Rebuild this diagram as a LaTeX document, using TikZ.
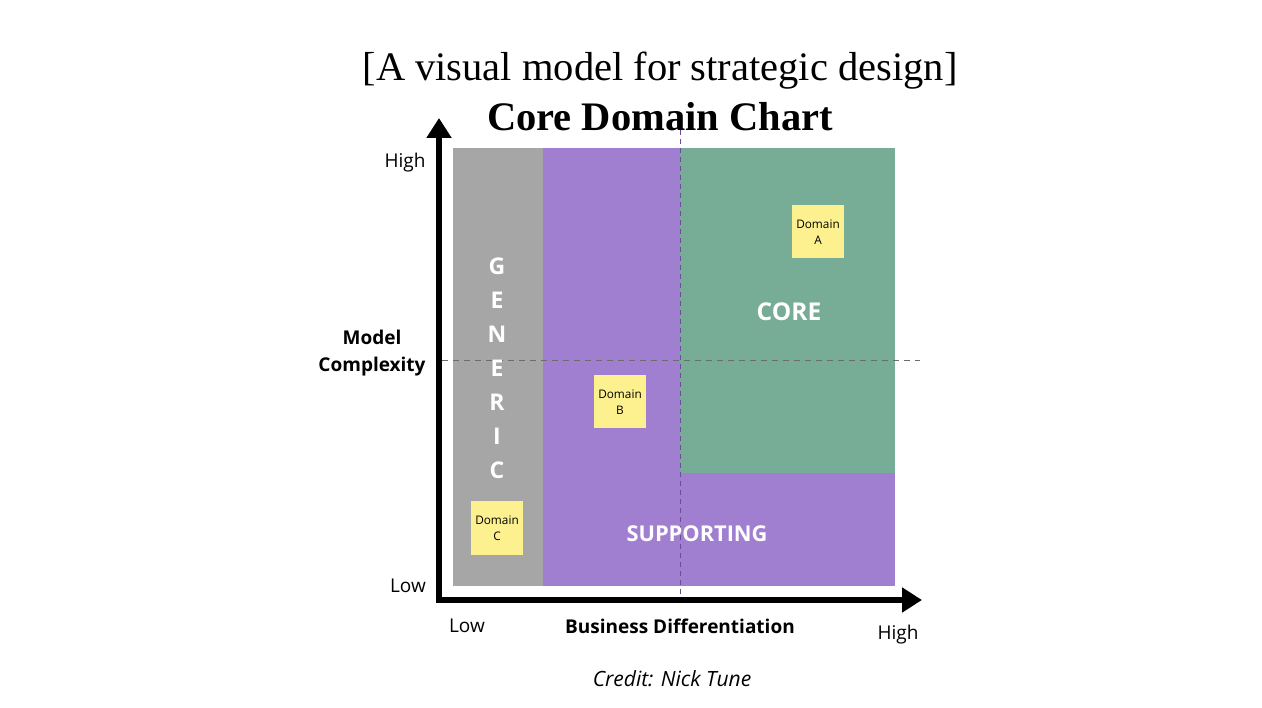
\documentclass[tikz,border=0pt]{standalone}
\usepackage{fontspec}
\setmainfont{Open Sans}
\newfontfamily\titlefont{Liberation Serif}
\usetikzlibrary{arrows.meta}
\definecolor{genericgray}{HTML}{A6A6A6}
\definecolor{suppurple}{HTML}{A17FD0}
\definecolor{coregreen}{HTML}{77AC97}
\definecolor{sticky}{HTML}{FDF08F}
\definecolor{dashpurple}{HTML}{6A4C98}
\begin{document}
\begin{tikzpicture}[x=1pt,y=-1pt,
  zonelabel/.style={text=white,font=\bfseries\fontsize{24.5}{28}\selectfont},
  note/.style={fill=sticky,minimum width=52pt,minimum height=53pt,inner sep=0pt,align=center,font=\fontsize{11.8}{16}\selectfont},
  axislabel/.style={font=\fontsize{19}{26}\selectfont},
  axistitle/.style={font=\bfseries\fontsize{19}{27}\selectfont,align=center},
  axis/.style={line width=6pt,-{Triangle[length=20pt,width=24pt]}}
]
\useasboundingbox (0,0) rectangle (1262,708);
% zones
\fill[suppurple] (543,148) rectangle (895,586);
\fill[genericgray] (453,148) rectangle (543,586);
\fill[coregreen] (680,148) rectangle (895,473);
% dashed guides
\draw[dashpurple,line width=0.9pt,dash pattern=on 5pt off 4pt] (680,130) -- (680,598);
\draw[gray!85!black,line width=0.9pt,dash pattern=on 6pt off 5pt] (442,360) -- (920,360);
% axes
\coordinate (origin) at (439,600);
\coordinate (ytip) at (439,118);
\coordinate (xtip) at (922,600);
\draw[axis] ([yshift=3pt]origin) -- (ytip);
\draw[axis] ([xshift=-3pt]origin) -- (xtip);
% titles
\node[font=\titlefont\fontsize{40.5}{44}\selectfont] (title) at (660,71) {[A visual model for strategic design]};
\node[font=\titlefont\bfseries\fontsize{40.5}{44}\selectfont] (subtitle) at (660,117) {Core Domain Chart};
% zone labels
\node[zonelabel,align=center,font=\bfseries\fontsize{23}{34}\selectfont] (generic) at (497,368) {G\\E\\N\\E\\R\\I\\C};
\node[zonelabel] (core) at (789,312) {CORE};
\node[zonelabel,font=\bfseries\fontsize{21.8}{26}\selectfont] (supporting) at (697,534) {SUPPORTING};
% sticky notes
\node[note] (doma) at (818,232) {Domain\\A};
\node[note] (domb) at (620,402) {Domain\\B};
\node[note] (domc) at (497,528) {Domain\\C};
% axis labels
\node[axislabel] (yhigh) at (405,163) {High};
\node[axislabel] (ylow) at (408,586) {Low};
\node[axistitle] (ytitle) at (372,353) {Model\\Complexity};
\node[axislabel] (xlow) at (467,626) {Low};
\node[axistitle] (xtitle) at (680,626) {Business Differentiation};
\node[axislabel] (xhigh) at (898,635) {High};
\node[font=\itshape\fontsize{21}{24}\selectfont] (credit) at (672,679) {Credit: Nick Tune};
\end{tikzpicture}
\end{document}
